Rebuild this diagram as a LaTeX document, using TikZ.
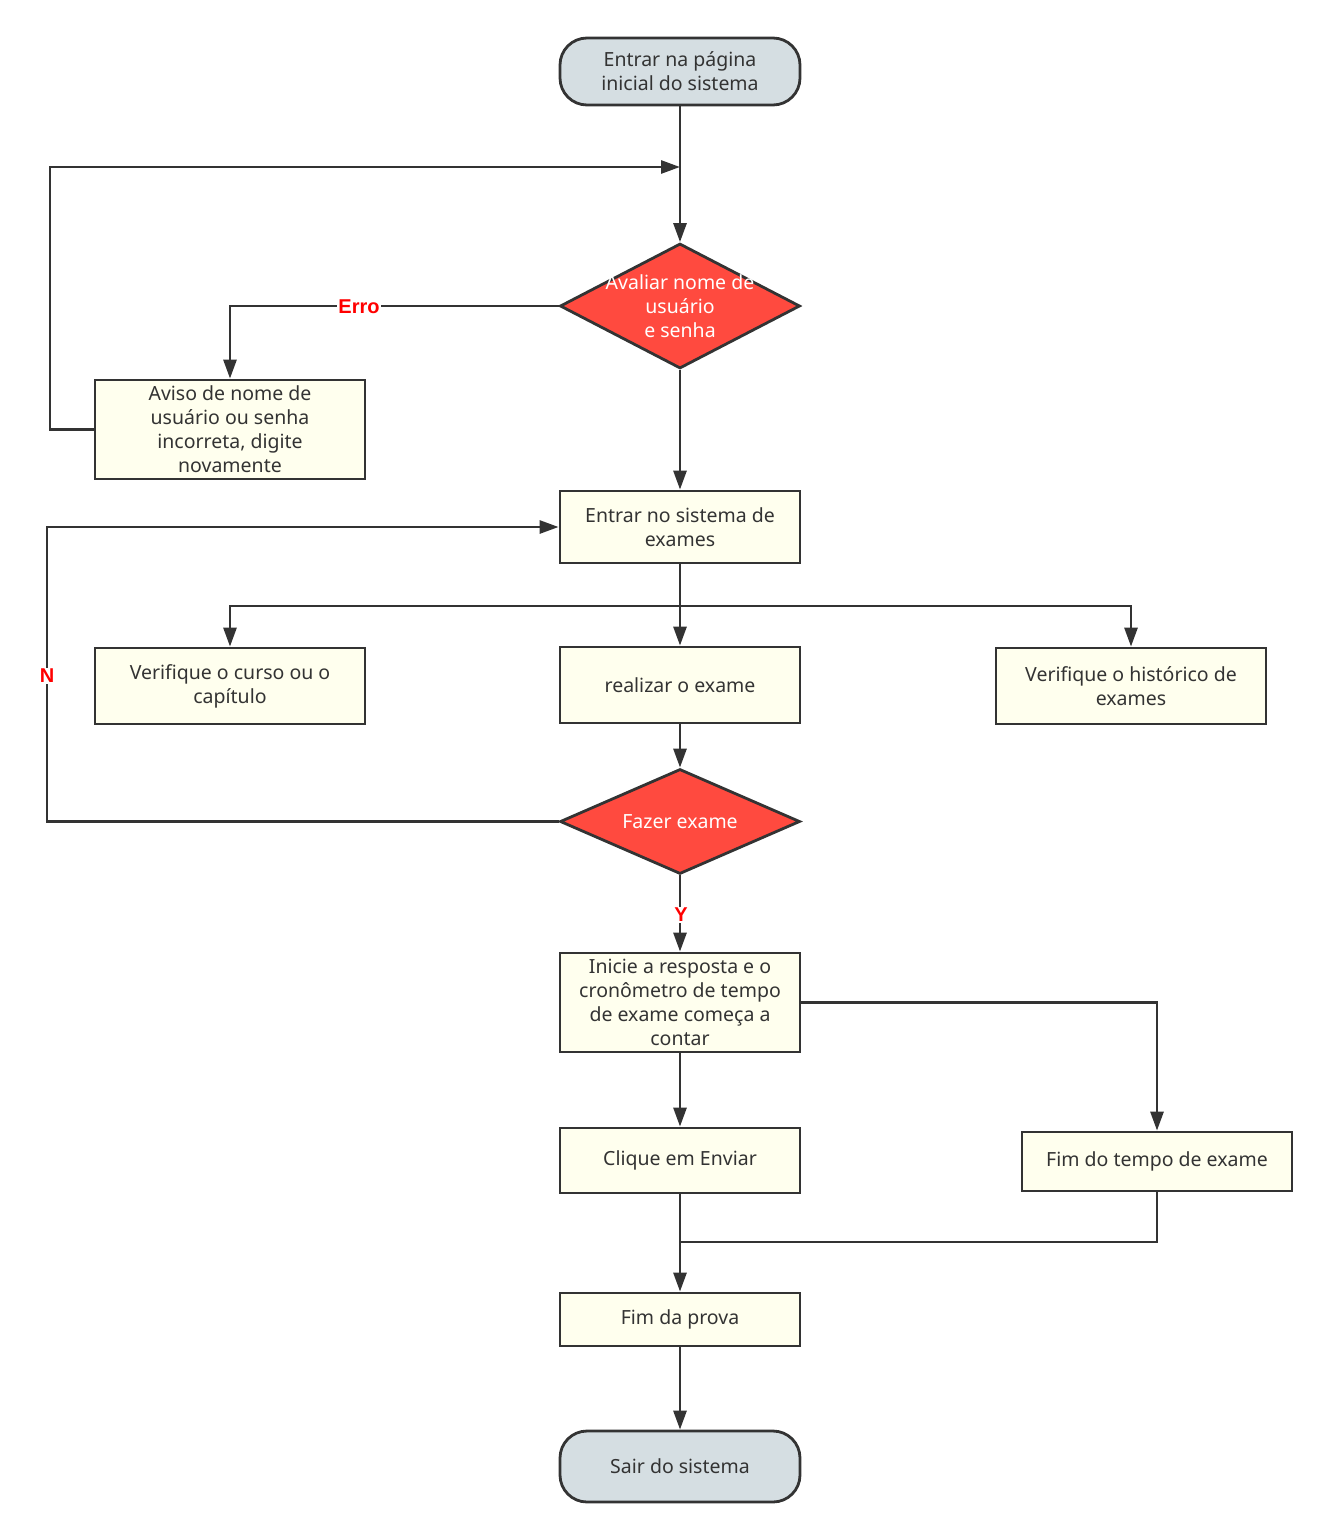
\documentclass[tikz,border=0pt]{standalone}
\usepackage{fontspec}
\setmainfont{Noto Sans}
\newfontfamily\labfont{Liberation Sans}
\usetikzlibrary{shapes.geometric,arrows.meta}
\definecolor{ln}{HTML}{333333}
\definecolor{boxfill}{HTML}{FFFFEE}
\definecolor{termfill}{HTML}{D5DEE2}
\definecolor{decfill}{HTML}{FF4A3F}
\tikzset{
  base/.style={draw=ln, line width=2.8pt, text=ln, align=center, inner sep=0pt,
    font=\fontsize{19.5}{24}\selectfont},
  procbox/.style={base, rectangle, fill=boxfill},
  termbox/.style={base, rectangle, rounded corners=27pt, fill=termfill, minimum width=240pt},
  decbox/.style={base, diamond, fill=decfill, minimum width=240pt},
  dectext/.style={text=white, align=center, font=\fontsize{19.5}{24}\selectfont},
  conn/.style={draw=ln, line width=2.8pt},
  arr/.style={conn, -{Triangle[length=19pt,width=13pt]}},
  lab/.style={text=red, font=\labfont\bfseries\fontsize{20}{22}\selectfont, fill=white, inner sep=1pt}
}
\begin{document}
\begin{tikzpicture}[x=1pt,y=-1pt]
\useasboundingbox (0,0) rectangle (1329,1539);
% nodes
\node[termbox, minimum height=67pt] (start) at (680,71.5) {Entrar na página\\inicial do sistema};
\node[decbox, minimum height=125pt] (d1) at (680,306) {};
\node[dectext] (d1t) at (d1.center) {Avaliar nome de\\usuário\\e senha};
\node[procbox, minimum width=270pt, minimum height=99pt] (aviso) at (230,429.5) {Aviso de nome de\\usuário ou senha\\incorreta, digite\\novamente};
\node[procbox, minimum width=240pt, minimum height=72pt] (entrar) at (680,527) {Entrar no sistema de\\exames};
\node[procbox, minimum width=270pt, minimum height=76pt] (curso) at (230,686) {Verifique o curso ou o\\capítulo};
\node[procbox, minimum width=240pt, minimum height=76pt] (realizar) at (680,685) {realizar o exame};
\node[procbox, minimum width=270pt, minimum height=76pt] (hist) at (1131,686) {Verifique o histórico de\\exames};
\node[decbox, minimum height=105pt] (d2) at (680,821.5) {};
\node[dectext] (d2t) at (d2.center) {Fazer exame};
\node[procbox, minimum width=240pt, minimum height=99pt] (inicie) at (680,1002.5) {Inicie a resposta e o\\cronômetro de tempo\\de exame começa a\\contar};
\node[procbox, minimum width=240pt, minimum height=65pt] (clique) at (680,1160.5) {Clique em Enviar};
\node[procbox, minimum width=270pt, minimum height=59pt] (fimtempo) at (1157,1161.5) {Fim do tempo de exame};
\node[procbox, minimum width=240pt, minimum height=53pt] (fimprova) at (680,1319.5) {Fim da prova};
\node[termbox, minimum height=71pt] (sair) at (680,1466.5) {Sair do sistema};
% coordinates
\coordinate (j1) at (680,167);
\coordinate (j2) at (680,606);
\coordinate (j3) at (680,1242);
% connectors
\draw[arr] (start.south) -- (d1.north);
\draw[arr] (aviso.west) -- (50,429.5) -- (50,167) -- (j1);
\draw[arr] (d1.west) -- (230,306) -- (aviso.north);
\node[lab] at (359,307) {Erro};
\draw[arr] (d1.south) -- (entrar.north);
\draw[arr] (entrar.south) -- (realizar.north);
\draw[arr] (j2) -- (230,606) -- (curso.north);
\draw[arr] (j2) -- (1131,606) -- (hist.north);
\draw[arr] (realizar.south) -- (d2.north);
\draw[arr] (d2.west) -- (47,821.5) -- (47,527) -- (entrar.west);
\node[lab] at (47,676) {N};
\draw[arr] (d2.south) -- (inicie.north);
\node[lab] at (681,915) {Y};
\draw[arr] (inicie.east) -- (1157,1002.5) -- (fimtempo.north);
\draw[arr] (inicie.south) -- (clique.north);
\draw[arr] (clique.south) -- (fimprova.north);
\draw[conn] (fimtempo.south) -- (1157,1242) -- (j3);
\draw[arr] (fimprova.south) -- (sair.north);
\end{tikzpicture}
\end{document}
